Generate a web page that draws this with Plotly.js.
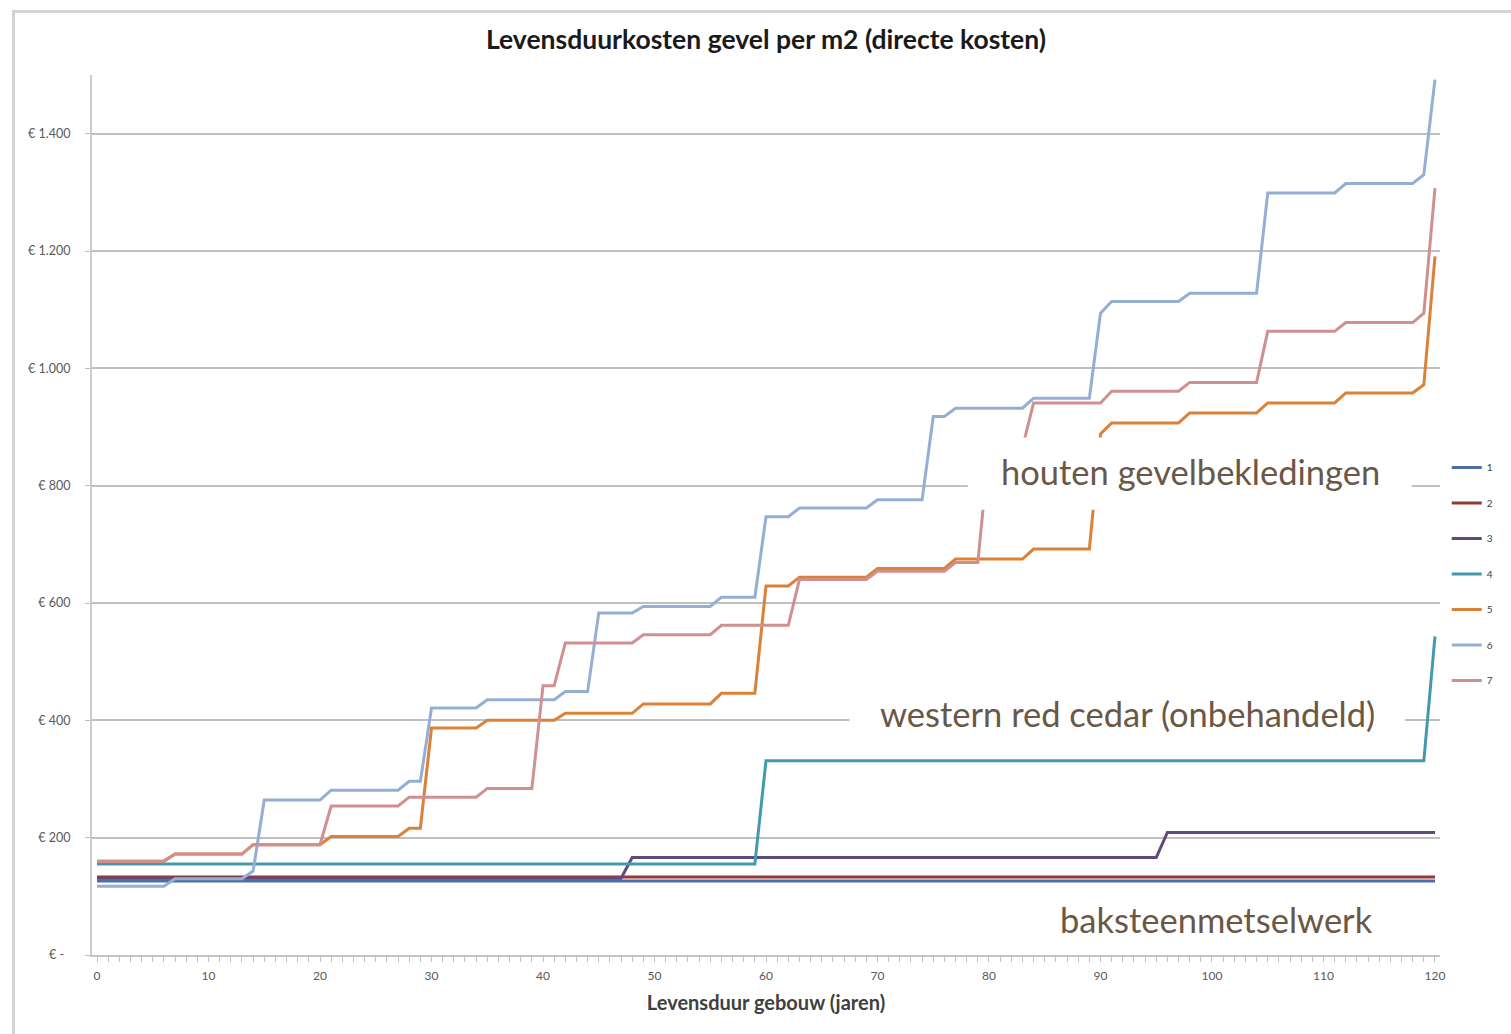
<!DOCTYPE html>
<html>
<head>
<meta charset="utf-8">
<script src="https://cdn.plot.ly/plotly-3.0.1.min.js"></script>
<style>
  html, body { margin:0; padding:0; background:#ffffff; overflow:hidden; width:1511px; height:1034px; }
  #frame { position:absolute; left:12px; top:10px; width:1600px; height:1100px; border:3px solid #d4d4d4; box-sizing:border-box; }
  #chart { position:absolute; left:0; top:0; width:1511px; height:1034px; }
</style>
</head>
<body>
<div id="frame"></div>
<div id="chart"></div>
<script>
// Years 0..120 (category axis)
const years = [];
for (let i = 0; i <= 120; i++) years.push(i);

const seriesNames = ['1','2','3','4','5','6','7'];
const seriesColors = ['#4A6FA5','#953735','#604A7B','#4599AD','#DB8138','#95AED3','#D0908F'];

const s1 = [
126,126,126,126,126,126,126,126,126,126,
126,126,126,126,126,126,126,126,126,126,
126,126,126,126,126,126,126,126,126,126,
126,126,126,126,126,126,126,126,126,126,
126,126,126,126,126,126,126,126,126,126,
126,126,126,126,126,126,126,126,126,126,
126,126,126,126,126,126,126,126,126,126,
126,126,126,126,126,126,126,126,126,126,
126,126,126,126,126,126,126,126,126,126,
126,126,126,126,126,126,126,126,126,126,
126,126,126,126,126,126,126,126,126,126,
126,126,126,126,126,126,126,126,126,126,
126];

const s2 = [
133,133,133,133,133,133,133,133,133,133,
133,133,133,133,133,133,133,133,133,133,
133,133,133,133,133,133,133,133,133,133,
133,133,133,133,133,133,133,133,133,133,
133,133,133,133,133,133,133,133,133,133,
133,133,133,133,133,133,133,133,133,133,
133,133,133,133,133,133,133,133,133,133,
133,133,133,133,133,133,133,133,133,133,
133,133,133,133,133,133,133,133,133,133,
133,133,133,133,133,133,133,133,133,133,
133,133,133,133,133,133,133,133,133,133,
133,133,133,133,133,133,133,133,133,133,
133];

const s3 = [
131,131,131,131,131,131,131,131,131,131,
131,131,131,131,131,131,131,131,131,131,
131,131,131,131,131,131,131,131,131,131,
131,131,131,131,131,131,131,131,131,131,
131,131,131,131,131,131,131,131,166,166,
166,166,166,166,166,166,166,166,166,166,
166,166,166,166,166,166,166,166,166,166,
166,166,166,166,166,166,166,166,166,166,
166,166,166,166,166,166,166,166,166,166,
166,166,166,166,166,166,209,209,209,209,
209,209,209,209,209,209,209,209,209,209,
209,209,209,209,209,209,209,209,209,209,
209];

const s4 = [
155,155,155,155,155,155,155,155,155,155,
155,155,155,155,155,155,155,155,155,155,
155,155,155,155,155,155,155,155,155,155,
155,155,155,155,155,155,155,155,155,155,
155,155,155,155,155,155,155,155,155,155,
155,155,155,155,155,155,155,155,155,155,
331,331,331,331,331,331,331,331,331,331,
331,331,331,331,331,331,331,331,331,331,
331,331,331,331,331,331,331,331,331,331,
331,331,331,331,331,331,331,331,331,331,
331,331,331,331,331,331,331,331,331,331,
331,331,331,331,331,331,331,331,331,331,
543];

const s5 = [
160,160,160,160,160,160,160,172,172,172,
172,172,172,172,188,188,188,188,188,188,
188,202,202,202,202,202,202,202,216,216,
387,387,387,387,387,400,400,400,400,400,
400,400,412,412,412,412,412,412,412,428,
428,428,428,428,428,428,446,446,446,446,
629,629,629,644,644,644,644,644,644,644,
659,659,659,659,659,659,659,675,675,675,
675,675,675,675,692,692,692,692,692,692,
888,907,907,907,907,907,907,907,924,924,
924,924,924,924,924,941,941,941,941,941,
941,941,958,958,958,958,958,958,958,972,
1191];

const s6 = [
117,117,117,117,117,117,117,130,130,130,
130,130,130,130,143,264,264,264,264,264,
264,281,281,281,281,281,281,281,296,296,
421,421,421,421,421,435,435,435,435,435,
435,435,449,449,449,583,583,583,583,594,
594,594,594,594,594,594,610,610,610,610,
747,747,747,762,762,762,762,762,762,762,
776,776,776,776,776,918,918,932,932,932,
932,932,932,932,949,949,949,949,949,949,
1094,1114,1114,1114,1114,1114,1114,1114,1128,1128,
1128,1128,1128,1128,1128,1299,1299,1299,1299,1299,
1299,1299,1315,1315,1315,1315,1315,1315,1315,1330,
1492];

const s7 = [
160,160,160,160,160,160,160,172,172,172,
172,172,172,172,188,188,188,188,188,188,
188,254,254,254,254,254,254,254,269,269,
269,269,269,269,269,284,284,284,284,284,
459,459,532,532,532,532,532,532,532,546,
546,546,546,546,546,546,562,562,562,562,
562,562,562,640,640,640,640,640,640,640,
654,654,654,654,654,654,654,669,669,669,
865,865,865,865,941,941,941,941,941,941,
941,961,961,961,961,961,961,961,976,976,
976,976,976,976,976,1063,1063,1063,1063,1063,
1063,1063,1078,1078,1078,1078,1078,1078,1078,1094,
1307];

const seriesValues = [s1, s2, s3, s4, s5, s6, s7];

const yTickVals = [0, 200, 400, 600, 800, 1000, 1200, 1400];
const yTickText = ['€ -  ', '€ 200', '€ 400', '€ 600', '€ 800', '€ 1.000', '€ 1.200', '€ 1.400'];

const labels = [
  {text: 'houten gevelbekledingen', x: 98.1, y: 824},
  {text: 'western red cedar (onbehandeld)', x: 92.4, y: 411},
  {text: 'baksteenmetselwerk', x: 100.4, y: 60}
];
// white boxes behind the labels [x0, x1, y0, y1]
const labelBoxes = [
  [78.1, 117.9, 759, 882],
  [67.5, 117.3, 358, 452],
  [82.3, 118.4, -2.5, 114]
];

const FONT = 'Lato, "Open Sans", sans-serif';

const traces = seriesValues.map((vals, i) => ({
  type: 'scatter',
  mode: 'lines',
  x: years,
  y: vals,
  name: seriesNames[i],
  legendgroup: 'g' + i,
  line: {color: seriesColors[i], width: 3},
  hoverinfo: 'x+y+name'
}));

const shapes = labelBoxes.map(b => ({
  type: 'rect', xref: 'x', yref: 'y', layer: 'above',
  x0: b[0], x1: b[1], y0: b[2], y1: b[3],
  fillcolor: '#ffffff', line: {width: 0}
}));

const annotations = labels.map(l => ({
  text: l.text, x: l.x, y: l.y, xref: 'x', yref: 'y',
  showarrow: false, xanchor: 'center', yanchor: 'middle',
  font: {family: FONT, size: 34.5, color: '#6A5746'}
}));

const layout = {
  width: 1511, height: 1034,
  paper_bgcolor: 'rgba(0,0,0,0)',
  plot_bgcolor: 'rgba(0,0,0,0)',
  margin: {l: 92, r: 71, t: 75, b: 79, pad: 0},
  font: {family: FONT, color: '#404040'},
  title: {
    text: 'Levensduurkosten gevel per m2 (directe kosten)',
    font: {family: FONT, size: 26.5, color: '#1a1a1a', weight: 'bold'},
    x: 0.5, xref: 'paper', xanchor: 'center',
    y: 1 - 40/1034, yref: 'container', yanchor: 'middle'
  },
  xaxis: {
    range: [-0.45, 120.45],
    tick0: 0, dtick: 10,
    ticks: 'outside', ticklen: 5, tickwidth: 1, tickcolor: '#bfbfbf',
    minor: {dtick: 1, ticks: 'outside', ticklen: 5, tickwidth: 1, tickcolor: '#bfbfbf', showgrid: false},
    showline: true, linecolor: '#c4c4c4', linewidth: 2,
    showgrid: false, zeroline: false,
    ticklabelstandoff: 4,
    tickfont: {family: FONT, size: 12, color: '#595959'},
    title: {text: 'Levensduur gebouw (jaren)', standoff: 14,
            font: {family: FONT, size: 20, color: '#404040', weight: 'bold'}},
    automargin: false, fixedrange: true
  },
  yaxis: {
    range: [0, 1500],
    tickmode: 'array', tickvals: yTickVals, ticktext: yTickText,
    ticks: 'outside', ticklen: 5, tickwidth: 1, tickcolor: '#bfbfbf',
    ticklabelstandoff: 12,
    showline: true, linecolor: '#cccccc', linewidth: 2,
    showgrid: true, gridcolor: '#c0c0c0', gridwidth: 2,
    zeroline: false,
    tickfont: {family: FONT, size: 12.5, color: '#595959'},
    automargin: false, fixedrange: true
  },
  showlegend: true,
  legend: {
    x: 1.005, xanchor: 'left', xref: 'paper',
    y: (955 - 453) / 880, yanchor: 'top', yref: 'paper',
    font: {family: FONT, size: 10, color: '#404040'},
    bgcolor: 'rgba(0,0,0,0)',
    tracegroupgap: 16.5,
    traceorder: 'grouped'
  },
  shapes: shapes,
  annotations: annotations
};

Plotly.newPlot('chart', traces, layout, {displayModeBar: false, staticPlot: true});
</script>
</body>
</html>
